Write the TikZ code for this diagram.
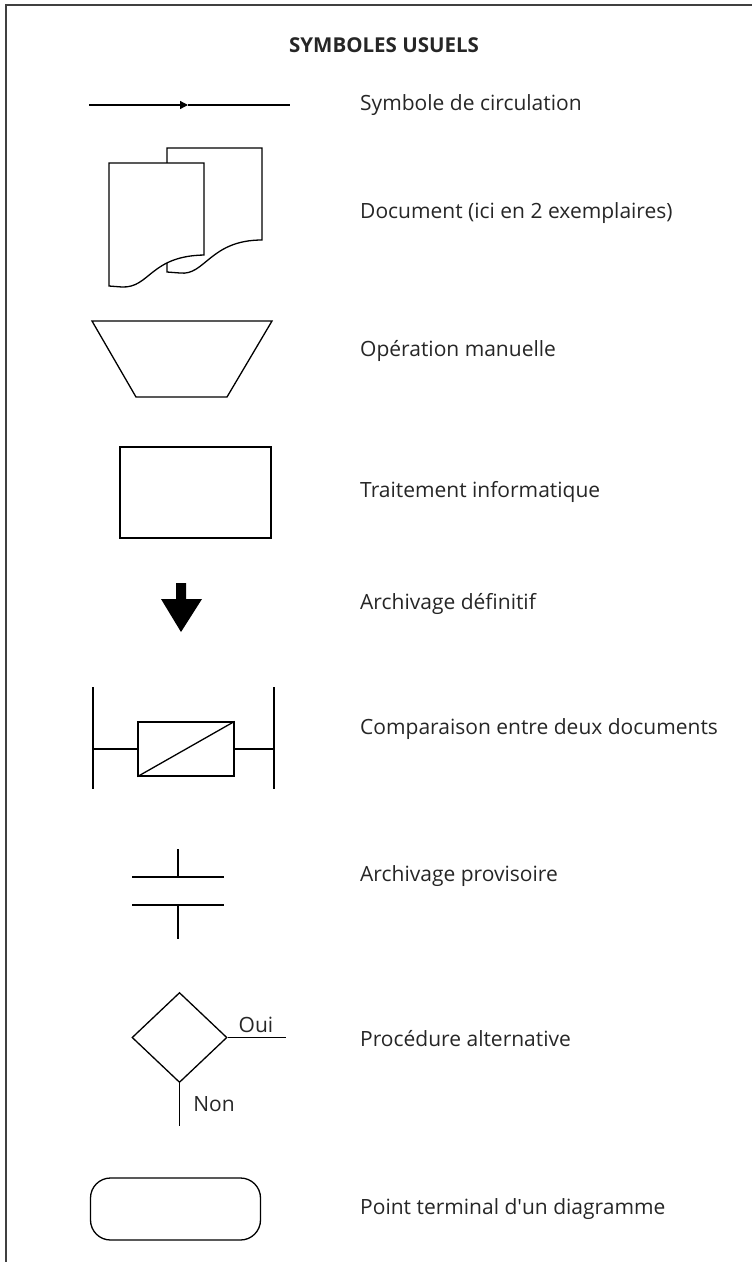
\documentclass[tikz,border=0pt]{standalone}
\usepackage{fontspec}
\setmainfont{Open Sans}
\usetikzlibrary{arrows.meta,shapes.geometric}
\begin{document}
\begin{tikzpicture}[x=1pt,y=-1pt,
  sym/.style={line width=1.3pt,black},
  lbl/.style={anchor=west,inner sep=0pt,font=\fontsize{21}{25}\selectfont,text=black!85},
  small/.style={inner sep=0pt,font=\fontsize{21}{25}\selectfont,text=black!85}]
\useasboundingbox (0,0) rectangle (752,1262);
% frame
\draw[line width=2pt,black!75] (752,5) -- (6,5) -- (6,1262);
\node[inner sep=0pt,font=\bfseries\fontsize{20.5}{24}\selectfont,text=black!85] (title) at (384,45) {SYMBOLES USUELS};
% 1 circulation
\coordinate (c1) at (89,105);
\coordinate (cm) at (188,105);
\coordinate (c2) at (290,105);
\draw[sym,-{Triangle[length=8pt,width=8pt]}] (c1) -- (cm);
\draw[sym] (cm) -- (c2);
\node[lbl] (t1) at (360,105) {Symbole de circulation};
% 2 documents
\draw[sym,fill=white] (167,272) -- (167,148) -- (262,148) -- (262,240)
  .. controls (210,240) and (205,276) .. (180,273) -- cycle;
\draw[sym,fill=white] (109,286) -- (109,163) -- (204,163) -- (204,255)
  .. controls (150,256) and (150,288) .. (122,287) -- cycle;
\node[lbl] (t2) at (360,213) {Document (ici en 2 exemplaires)};
% 3 manual operation
\draw[sym] (92,321) -- (272,321) -- (227,397) -- (136,397) -- cycle;
\node[lbl] (t3) at (360,351) {Opération manuelle};
% 4 processing
\node[draw,sym,minimum width=151pt,minimum height=91pt,inner sep=0pt] (proc) at (195.5,492.5) {};
\node[lbl] (t4) at (360,492) {Traitement informatique};
% 5 archive definitive
\fill[black] (176,583) -- (186,583) -- (186,599) -- (202,599) -- (181,632) -- (161,599) -- (176,599) -- cycle;
\node[lbl] (t5) at (360,604) {Archivage définitif};
% 6 comparison
\node[draw,sym,minimum width=96pt,minimum height=54pt,inner sep=0pt] (cmp) at (186,749) {};
\draw[sym] (cmp.south west) -- (cmp.north east);
\coordinate (bl1) at (93,687); \coordinate (bl2) at (93,789);
\coordinate (br1) at (274,687); \coordinate (br2) at (274,789);
\draw[sym] (bl1) -- (bl2);
\draw[sym] (br1) -- (br2);
\draw[sym] (cmp.west) -- (93,749);
\draw[sym] (cmp.east) -- (274,749);
\node[lbl] (t6) at (360,729) {Comparaison entre deux documents};
% 7 provisional archive
\coordinate (p1) at (178,849); \coordinate (p2) at (178,877);
\coordinate (p3) at (178,905); \coordinate (p4) at (178,939);
\draw[sym] (p1) -- (p2);
\draw[sym] (132,877) -- (224,877);
\draw[sym] (132,905) -- (224,905);
\draw[sym] (p3) -- (p4);
\node[lbl] (t7) at (360,876) {Archivage provisoire};
% 8 decision
\node[draw,sym,diamond,minimum width=95pt,minimum height=90pt,inner sep=0pt] (dec) at (179.5,1037.5) {};
\coordinate (oui) at (286,1037.5);
\coordinate (non) at (179.5,1126);
\draw[sym] (dec.east) -- (oui);
\draw[sym] (dec.south) -- (non);
\node[small] (louis) at (256,1025) {Oui};
\node[small] (lnon) at (214,1104) {Non};
\node[lbl] (t8) at (360,1039) {Procédure alternative};
% 9 terminal
\node[draw,sym,rounded corners=20pt,minimum width=170pt,minimum height=62pt,inner sep=0pt] (term) at (175.5,1209) {};
\node[lbl] (t9) at (360,1209) {Point terminal d\textquotesingle un diagramme};
\end{tikzpicture}
\end{document}
